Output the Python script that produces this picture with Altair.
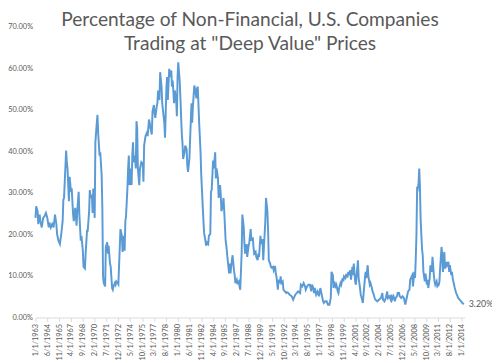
import altair as alt
import pandas as pd

# Months since January 1963 (x) and percentage of companies (y)
months_since_1963 = [
    0, 1, 3, 4, 6, 7, 9, 11, 13, 15, 17, 19, 20, 22, 24, 26, 28, 30, 31, 33, 35, 37, 39, 40, 41,
    44, 45, 46, 48, 49, 51, 52, 54, 55, 57, 59, 60, 62, 63, 65, 66, 68, 69, 71, 72, 74, 75, 77, 78,
    79, 81, 82, 83, 85, 86, 88, 89, 90, 92, 93, 95, 96, 97, 98, 100, 101, 103, 104, 105, 107, 108,
    110, 111, 112, 114, 115, 116, 118, 119, 122, 124, 125, 127, 128, 129, 130, 132, 133, 134, 135,
    137, 138, 139, 140, 141, 143, 144, 145, 146, 147, 149, 150, 152, 154, 155, 156, 158, 160, 161,
    163, 164, 165, 167, 168, 170, 171, 172, 174, 175, 176, 178, 179, 181, 182, 183, 185, 186, 188,
    189, 190, 192, 193, 195, 196, 197, 199, 200, 202, 203, 204, 205, 207, 208, 210, 211, 212, 214,
    215, 217, 218, 219, 221, 222, 224, 225, 226, 228, 229, 231, 232, 233, 235, 237, 238, 240, 242,
    244, 245, 246, 248, 249, 251, 252, 253, 255, 256, 258, 259, 260, 262, 263, 265, 266, 267, 269,
    270, 271, 273, 274, 276, 278, 279, 280, 282, 283, 285, 286, 287, 289, 290, 292, 293, 294, 296,
    297, 299, 300, 301, 303, 304, 306, 307, 309, 310, 312, 313, 314, 316, 317, 319, 320, 321, 323,
    324, 326, 327, 328, 330, 331, 333, 334, 335, 337, 338, 339, 341, 342, 344, 345, 346, 348, 349,
    351, 352, 353, 355, 356, 358, 360, 361, 363, 365, 368, 370, 373, 375, 377, 380, 381, 383, 385,
    387, 388, 390, 392, 394, 396, 397, 399, 400, 401, 403, 405, 407, 409, 411, 413, 414, 416, 418,
    420, 422, 424, 425, 427, 428, 429, 431, 432, 434, 435, 436, 438, 439, 441, 442, 443, 445, 446,
    448, 449, 450, 452, 453, 455, 456, 457, 459, 460, 462, 463, 464, 466, 467, 469, 470, 471, 473,
    474, 475, 477, 478, 480, 481, 483, 484, 485, 487, 488, 491, 493, 496, 498, 499, 501, 503, 505,
    506, 508, 510, 511, 512, 514, 516, 517, 519, 520, 522, 523, 525, 527, 529, 531, 533, 535, 537,
    538, 539, 541, 542, 544, 545, 546, 547, 548, 549, 550, 551, 552, 553, 555, 556, 557, 559, 560,
    562, 563, 564, 566, 567, 569, 570, 572, 573, 574, 576, 577, 579, 580, 581, 583, 584, 585, 587,
    588, 590, 591, 593, 594, 595, 597, 598, 599, 601, 602, 604, 605, 607, 609, 611, 613, 615,
]
pct_deep_value = [
    24.0, 26.8, 25.6, 22.5, 24.8, 23.2, 21.7, 24.0, 24.4, 25.2, 24.0, 21.7, 22.9, 21.7, 22.5, 21.7,
    24.8, 22.5, 20.1, 18.5, 17.7, 20.1, 23.2, 28.4, 28.8, 40.2, 37.4, 35.9, 28.0, 33.9, 30.3, 31.1,
    24.8, 23.2, 26.4, 22.1, 25.6, 30.3, 24.8, 18.5, 19.7, 16.1, 12.2, 11.8, 15.4, 20.9, 20.9, 25.6,
    30.7, 28.8, 29.6, 25.2, 31.1, 24.0, 42.2, 46.9, 48.8, 44.5, 39.0, 39.8, 34.3, 26.4, 9.9, 8.3,
    7.5, 17.0, 18.1, 15.4, 17.3, 13.0, 12.2, 7.1, 6.7, 7.5, 8.3, 7.9, 8.7, 8.3, 8.0, 21.3, 19.7,
    15.8, 19.7, 16.1, 23.2, 24.4, 31.1, 35.9, 39.0, 31.9, 35.9, 31.9, 39.0, 42.2, 37.4, 39.0, 35.9,
    47.3, 45.7, 35.9, 31.9, 35.9, 37.4, 37.0, 32.7, 41.4, 43.7, 44.5, 43.7, 47.7, 46.9, 45.7, 44.1,
    49.6, 51.2, 49.2, 48.1, 50.8, 51.6, 54.7, 52.4, 59.1, 55.6, 51.6, 50.0, 46.9, 43.3, 55.6, 57.9,
    52.4, 59.9, 57.9, 59.5, 55.6, 57.1, 51.6, 54.7, 52.4, 48.5, 57.9, 61.5, 57.1, 53.2, 44.5, 42.2,
    38.2, 39.8, 41.4, 40.6, 36.6, 35.1, 38.2, 42.9, 51.6, 46.9, 50.8, 55.9, 55.2, 52.8, 55.2, 55.6,
    46.9, 39.8, 34.3, 27.2, 20.5, 18.5, 17.3, 18.1, 17.7, 19.7, 20.1, 30.3, 30.7, 37.8, 35.9, 39.8,
    33.5, 35.9, 33.5, 28.8, 31.9, 29.6, 25.6, 27.2, 28.8, 25.6, 18.5, 17.3, 13.8, 10.6, 13.0, 10.6,
    13.8, 15.0, 11.4, 10.2, 8.3, 9.1, 8.3, 8.7, 7.5, 6.7, 15.4, 24.8, 21.7, 17.7, 15.4, 17.7, 14.6,
    17.3, 18.1, 21.3, 18.5, 19.3, 17.0, 15.4, 15.8, 14.6, 13.8, 15.4, 14.6, 19.7, 17.7, 18.9, 13.8,
    17.0, 23.2, 28.8, 25.6, 20.9, 13.8, 13.0, 12.2, 12.0, 12.2, 11.4, 12.4, 10.6, 9.9, 6.7, 9.1,
    8.3, 9.9, 8.3, 8.7, 6.7, 6.3, 5.9, 6.1, 5.9, 5.5, 5.1, 4.3, 5.5, 5.9, 6.3, 5.9, 7.9, 7.5, 8.3,
    7.5, 6.7, 7.5, 7.9, 7.9, 6.3, 7.9, 7.1, 5.9, 7.1, 5.5, 6.3, 5.1, 7.1, 5.5, 3.9, 3.5, 3.9, 3.9,
    3.1, 3.1, 4.7, 11.0, 10.2, 7.1, 8.7, 7.5, 7.9, 6.3, 5.9, 7.1, 8.3, 7.9, 9.5, 8.7, 9.9, 9.5,
    10.2, 9.9, 11.0, 10.2, 11.4, 9.1, 12.2, 10.2, 13.0, 8.7, 7.9, 11.8, 13.8, 9.5, 7.1, 5.5, 4.3,
    3.5, 5.5, 9.5, 11.0, 9.5, 12.6, 9.9, 7.9, 8.3, 7.1, 6.3, 5.9, 4.7, 4.3, 3.9, 4.3, 4.7, 5.9,
    4.3, 3.9, 4.7, 6.3, 4.7, 5.1, 4.3, 5.5, 4.3, 5.1, 3.9, 4.7, 5.1, 5.9, 5.9, 5.1, 4.7, 5.1, 4.7,
    3.1, 4.7, 6.3, 6.7, 9.1, 9.5, 10.2, 7.5, 11.0, 9.5, 14.2, 20.0, 31.5, 31.1, 32.3, 35.9, 31.5,
    23.6, 16.5, 15.0, 11.0, 8.7, 10.6, 7.9, 9.1, 7.1, 9.5, 12.6, 11.0, 14.6, 10.2, 8.7, 7.9, 8.7,
    7.5, 7.9, 8.7, 11.8, 17.0, 15.0, 11.0, 15.8, 11.8, 13.4, 12.6, 13.4, 11.0, 12.6, 10.2, 11.0,
    9.5, 7.9, 7.1, 5.9, 5.5, 4.7, 4.3, 3.9, 3.5, 3.2,
]
# x-axis category labels shown every 17 months (1/1/1963 ... 1/1/2014)
tick_months = list(range(0, 613, 17))
y_ticks = [0, 10, 20, 30, 40, 50, 60, 70]

title_lines = ["Percentage of Non-Financial, U.S. Companies", 'Trading at "Deep Value" Prices']

df = pd.DataFrame({"m": months_since_1963, "pct": pct_deep_value})
df["label"] = df["pct"].map(lambda v: f"{v:.2f}%")
last = df.tail(1)

GRAY = "#595959"
BLUE = "#5B9BD5"
FONT = "Lato"

x_enc = alt.X(
    "m:Q",
    scale=alt.Scale(domain=[0, 616], nice=False, zero=False),
    axis=alt.Axis(
        values=tick_months,
        labelExpr="(datum.value % 12 + 1) + '/1/' + (1963 + floor(datum.value / 12))",
        labelAngle=270,
        labelFontSize=7.5,
        labelFont=FONT,
        labelColor=GRAY,
        labelPadding=2,
        tickSize=4,
        tickColor="#d9d9d9",
        domainColor="#d9d9d9",
        grid=False,
        title=None,
        labelOverlap=False,
        labelSeparation=0,
        labelBound=False,
    ),
)
y_enc = alt.Y(
    "pct:Q",
    scale=alt.Scale(domain=[0, 70], nice=False),
    axis=alt.Axis(
        values=y_ticks,
        labelExpr="format(datum.value, '.2f') + '%'",
        labelFontSize=7.5,
        labelFont=FONT,
        labelColor=GRAY,
        labelPadding=3,
        ticks=False,
        domain=False,
        grid=False,
        title=None,
        labelOverlap=False,
    ),
)

line = alt.Chart(df).mark_line(color=BLUE, strokeWidth=2).encode(x=x_enc, y=y_enc)
end_label = alt.Chart(last).mark_text(
    align="left", baseline="middle", dx=5, fontSize=9, font=FONT, color=GRAY
).encode(x=x_enc, y=y_enc, text="label:N")

chart = (
    alt.layer(line, end_label)
    .properties(
        width=437,
        height=296,
        autosize=alt.AutoSizeParams(type="none"),
        padding={"left": 28, "top": 16, "right": 28, "bottom": 40},
        title=alt.TitleParams(
            text=title_lines,
            anchor="middle",
            baseline="top",
            font=FONT,
            fontSize=19.5,
            fontWeight="normal",
            color=GRAY,
            lineHeight=24,
            offset=0,
            dy=32,
        ),
    )
    .configure_view(stroke=None)
    .configure_axis(labelOverlap=False)
)

chart.save("out.html", embed_options={"renderer": "svg", "actions": False})
